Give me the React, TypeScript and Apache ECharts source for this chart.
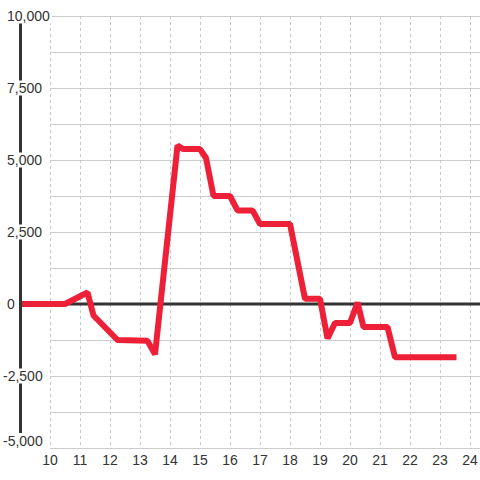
import React, { useEffect, useRef } from "react";
import * as echarts from "echarts";

const hours = [9, 10.5, 11.25, 11.45, 12.25, 13.25, 13.5, 14.25, 14.45, 15.0, 15.2, 15.45, 16.0, 16.25, 16.75, 17.0, 18.0, 18.5, 19.0, 19.25, 19.5, 20.0, 20.25, 20.45, 21.25, 21.5, 23.55];
const values = [0, 0, 400, -400, -1250, -1280, -1750, 5500, 5380, 5380, 5070, 3750, 3750, 3250, 3250, 2780, 2780, 180, 180, -1200, -660, -660, 50, -800, -800, -1850, -1850];
const xTickLabels = [10, 11, 12, 13, 14, 15, 16, 17, 18, 19, 20, 21, 22, 23, 24];
const yLabelValues = [-5000, -2500, 0, 2500, 5000, 7500, 10000];
const zeroLine = [[9, 0], [25, 0]];

const fmt = (v: number) => {
  const s = Math.abs(v).toLocaleString("en-US");
  return (v < 0 ? "-" : "") + s;
};

export default function App() {
  const ref = useRef<HTMLDivElement>(null);
  useEffect(() => {
    document.body.style.margin = "0";
    const chart = echarts.init(ref.current!, null, { renderer: "svg" });
    const font = "Liberation Sans";
    chart.setOption({
      animation: false,
      backgroundColor: "#ffffff",
      grid: [
        { left: 50, right: 0, top: 16, bottom: 32, outerBoundsMode: "none", containLabel: false },
        { left: 20, right: -20, top: 16, bottom: 32, outerBoundsMode: "none", containLabel: false },
      ],
      xAxis: [
        { type: "value", gridIndex: 0, min: 9, max: 25, show: false },
        {
          type: "value",
          gridIndex: 1,
          min: 9,
          max: 25,
          interval: 1,
          axisLine: { show: false },
          axisTick: { show: false },
          axisLabel: {
            margin: 5,
            color: "#333",
            fontSize: 14,
            fontFamily: font,
            formatter: (v: number) => (xTickLabels.includes(v) ? String(v) : ""),
          },
          splitLine: { show: true, lineStyle: { color: "#c8c8c8", type: [3, 3], width: 1 } },
        },
      ],
      yAxis: [
        {
          type: "value",
          gridIndex: 0,
          min: -5000,
          max: 10000,
          interval: 1250,
          axisLine: { show: false },
          axisTick: { show: false },
          axisLabel: { show: false },
          splitLine: { show: true, lineStyle: { color: "#cccccc", width: 1 } },
        },
        {
          type: "value",
          gridIndex: 1,
          min: -5000,
          max: 10000,
          interval: 1250,
          z: 5,
          axisLine: { show: true, lineStyle: { color: "#333333", width: 3 } },
          axisTick: { show: false },
          splitLine: { show: false },
          axisLabel: {
            align: "left",
            margin: 17,
            color: "#333",
            fontSize: 14,
            fontFamily: font,
            backgroundColor: "#ffffff",
            lineHeight: 15,
            padding: [0, 2, 0, 0],
            formatter: (v: number) => {
              if (!yLabelValues.includes(v)) return "";
              if (v === -5000) return fmt(v) + "\n ";
              if (v < 0) return fmt(v);
              return "{p|" + fmt(v) + "}";
            },
            rich: {
              p: { padding: [0, 0, 0, 4], fontSize: 14, fontFamily: font, color: "#333", lineHeight: 15 },
            },
          },
        },
      ],
      series: [
        {
          type: "line",
          xAxisIndex: 1,
          yAxisIndex: 1,
          data: zeroLine,
          showSymbol: false,
          silent: true,
          z: 1,
          lineStyle: { color: "#333333", width: 3 },
        },
        {
          type: "line",
          xAxisIndex: 1,
          yAxisIndex: 1,
          data: hours.map((h, i) => [h, values[i]]),
          showSymbol: false,
          z: 3,
          lineStyle: { color: "#ee2037", width: 6 },
        },
      ],
    });
    return () => chart.dispose();
  }, []);
  return <div ref={ref} style={{ width: 480, height: 480 }} />;
}
